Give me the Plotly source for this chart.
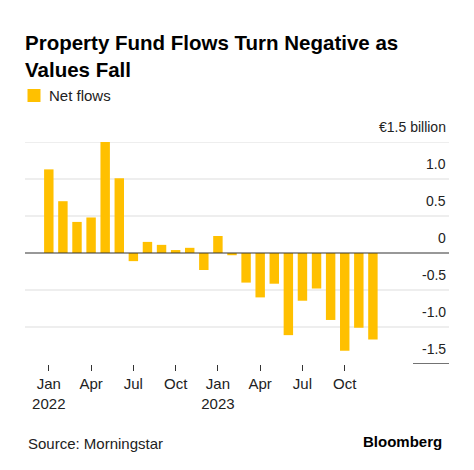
import plotly.graph_objects as go

months = ["2022-01", "2022-02", "2022-03", "2022-04", "2022-05", "2022-06",
          "2022-07", "2022-08", "2022-09", "2022-10", "2022-11", "2022-12",
          "2023-01", "2023-02", "2023-03", "2023-04", "2023-05", "2023-06",
          "2023-07", "2023-08", "2023-09", "2023-10", "2023-11", "2023-12"]
net_flows = [1.13, 0.70, 0.42, 0.48, 1.54, 1.01,
             -0.11, 0.15, 0.11, 0.04, 0.07, -0.23,
             0.23, -0.03, -0.40, -0.60, -0.415, -1.11,
             -0.645, -0.48, -0.905, -1.32, -1.01, -1.17]

x_tick_vals = ["2022-01", "2022-04", "2022-07", "2022-10",
               "2023-01", "2023-04", "2023-07", "2023-10"]
x_tick_text = ["Jan<br>2022", "Apr", "Jul", "Oct", "Jan<br>2023", "Apr", "Jul", "Oct"]

y_tick_vals = [1.5, 1.0, 0.5, 0, -0.5, -1.0, -1.5]
y_tick_text = ["€1.5 billion", "1.0", "0.5", "0", "-0.5", "-1.0", "-1.5"]

series_name = "Net flows"

YELLOW = "#ffc000"
FONT = "Liberation Sans, Arial, sans-serif"

# The page body has an 8px margin; work in screen pixels and compensate.
OFF = 8
W, H = 474 - OFF, 470 - OFF
# plot area in screen pixels: x 25..449, y 142..364
PL, PR, PT, PB = 25, 449, 142, 364
def px_x(p):
    return (p - PL) / (PR - PL)
def px_y(p):
    return (PB - p) / (PB - PT)

fig = go.Figure()
fig.add_trace(go.Bar(x=months, y=net_flows, name=series_name,
                     marker=dict(color=YELLOW, line=dict(width=0))))

shapes = []
annotations = []
for v, t in zip(y_tick_vals, y_tick_text):
    if v == 0:
        shapes.append(dict(type="line", xref="paper", yref="y", x0=0, x1=1, y0=v, y1=v,
                           line=dict(color="#333333", width=1.2), layer="above"))
    elif v == y_tick_vals[-1]:
        shapes.append(dict(type="line", xref="paper", yref="y", x0=px_x(413), x1=1, y0=v, y1=v,
                           line=dict(color="#444444", width=1.5), layer="above"))
    else:
        shapes.append(dict(type="line", xref="paper", yref="y", x0=0, x1=1, y0=v, y1=v,
                           line=dict(color="#dddddd", width=1), layer="below"))
    annotations.append(dict(text=t, xref="paper", yref="y", x=px_x(448), y=v,
                            xanchor="right", yanchor="middle", yshift=15, showarrow=False,
                            font=dict(size=14, color="#222222")))

# legend (manual)
shapes.append(dict(type="rect", xref="paper", yref="paper",
                   x0=px_x(27.5), x1=px_x(40.5), y0=px_y(102), y1=px_y(89),
                   fillcolor=YELLOW, line=dict(width=0)))
annotations.append(dict(text=series_name, xref="paper", yref="paper",
                        x=px_x(46.5), y=px_y(96), xanchor="left", yanchor="middle",
                        showarrow=False, font=dict(size=15, color="#222222")))

annotations += [
    dict(text="Source: Morningstar", xref="paper", yref="paper",
         x=px_x(25.5), y=px_y(443), xanchor="left", yanchor="middle",
         showarrow=False, font=dict(size=15, color="#222222")),
    dict(text="<b>Bloomberg</b>", xref="paper", yref="paper",
         x=px_x(444), y=px_y(441), xanchor="right", yanchor="middle",
         showarrow=False, font=dict(size=15, color="#000000")),
]

fig.update_layout(
    width=W, height=H,
    margin=dict(l=PL - OFF, r=W - (PR - OFF), t=PT - OFF, b=H - (PB - OFF), autoexpand=False),
    paper_bgcolor="white", plot_bgcolor="white",
    font=dict(family=FONT, color="#222222", size=14),
    bargap=0.33,
    showlegend=False,
    title=dict(text="<b>Property Fund Flows Turn Negative as<br>Values Fall</b>",
               x=(25 - OFF) / W, xref="container", xanchor="left",
               y=1 - (50 - OFF) / H, yref="container", yanchor="top",
               font=dict(family=FONT, size=20.5, color="#000000")),
    xaxis=dict(type="category", categoryorder="array", categoryarray=months,
               range=[-1.69, 28.4], showgrid=False, zeroline=False, showline=False,
               tickmode="array", tickvals=x_tick_vals, ticktext=x_tick_text,
               ticks="outside", ticklen=6, tickwidth=1, tickcolor="#333333",
               tickfont=dict(size=15, color="#222222")),
    yaxis=dict(range=[-1.5, 1.5], showgrid=False, zeroline=False,
               showline=False, showticklabels=False, ticks=""),
    shapes=shapes,
    annotations=annotations,
)

fig.write_html("out.html")
